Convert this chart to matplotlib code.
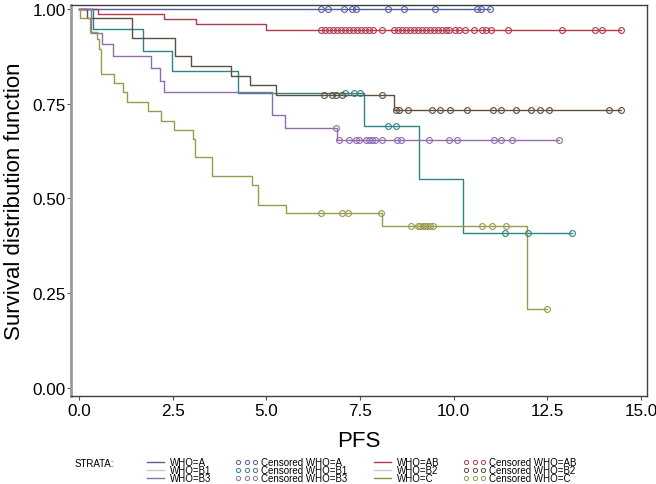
import numpy as np
import matplotlib
matplotlib.use("Agg")
import matplotlib.pyplot as plt
from matplotlib.lines import Line2D

plt.rcParams['font.family'] = ['Liberation Sans', 'DejaVu Sans']

# ---- data ----
strata = ["WHO=A", "WHO=AB", "WHO=B1", "WHO=B2", "WHO=B3", "WHO=C"]

a_times = [0.0]
a_surv = [1.0]
a_end = 10.96
a_cens = [6.45, 6.65, 7.07, 7.29, 7.39, 8.24, 8.67, 9.49, 10.62, 10.73, 10.96]

ab_times = [0.0, 0.51, 2.27, 3.13, 4.98]
ab_surv = [1.0, 0.988, 0.974, 0.960, 0.945]
ab_end = 14.45
ab_cens = [6.45, 6.56, 6.67, 6.77, 6.88, 6.99, 7.09, 7.20, 7.31, 7.41, 7.52, 7.63,
           7.73, 7.84, 8.09, 8.40, 8.51, 8.61, 8.72, 8.83, 8.93, 9.04, 9.15, 9.25,
           9.36, 9.47, 9.57, 9.68, 9.79, 9.87, 10.03, 10.13, 10.31, 10.53, 10.75,
           10.85, 10.98, 11.44, 12.89, 13.78, 13.95, 14.45]

b1_times = [0.0, 0.38, 1.71, 2.49, 4.25, 7.60, 9.07, 10.25]
b1_surv = [1.0, 0.947, 0.888, 0.835, 0.778, 0.690, 0.550, 0.409]
b1_end = 13.15
b1_cens = [7.11, 7.33, 7.51, 8.24, 8.46, 11.38, 11.97, 13.15]

b2_times = [0.0, 0.22, 1.42, 2.55, 2.99, 4.06, 4.56, 5.26, 8.40]
b2_surv = [1.0, 0.975, 0.923, 0.875, 0.849, 0.824, 0.799, 0.773, 0.734]
b2_end = 14.45
b2_cens = [6.53, 6.75, 6.85, 7.02, 8.09, 8.45, 8.53, 8.78, 9.42, 9.62, 9.91, 10.34,
           11.04, 11.27, 11.65, 12.07, 12.31, 12.53, 14.15, 14.45]

b3_times = [0.0, 0.33, 0.62, 0.91, 1.91, 2.16, 2.27, 5.14, 5.49, 6.89]
b3_surv = [1.0, 0.936, 0.908, 0.875, 0.844, 0.811, 0.780, 0.720, 0.686, 0.653]
b3_end = 12.82
b3_cens = [6.85, 6.93, 7.20, 7.38, 7.47, 7.65, 7.73, 7.82, 7.91, 8.09, 8.49, 8.58,
           9.33, 9.87, 10.09, 11.07, 11.25, 11.55, 12.82]

c_times = [0.0, 0.03, 0.29, 0.49, 0.53, 0.59, 0.93, 1.17, 1.29, 1.84, 2.18, 2.53,
           3.05, 3.09, 3.55, 4.61, 4.77, 5.51, 8.09, 11.95]
c_surv = [1.0, 0.975, 0.938, 0.922, 0.894, 0.828, 0.805, 0.780, 0.755, 0.730, 0.704,
          0.680, 0.657, 0.609, 0.558, 0.536, 0.483, 0.461, 0.427, 0.208]
c_end = 12.49
c_cens = [6.47, 7.01, 7.18, 8.07, 8.85, 9.04, 9.11, 9.17, 9.23, 9.29, 9.36, 9.45,
          10.75, 11.02, 11.39, 12.49]

x_ticks = [0.0, 2.5, 5.0, 7.5, 10.0, 12.5, 15.0]
y_ticks = [0.00, 0.25, 0.50, 0.75, 1.00]

# ---- style ----
colors = {"WHO=A": "#53609e", "WHO=AB": "#b23a4c", "WHO=B1": "#2d8583",
          "WHO=B2": "#5e4e3e", "WHO=B3": "#8e6cae", "WHO=C": "#9a9a4e"}
legend_line_colors = {"WHO=A": "#53609e", "WHO=AB": "#b23a4c", "WHO=B1": "#c9cbc9",
                      "WHO=B2": "#c9c9c7", "WHO=B3": "#8e6cae", "WHO=C": "#8f8f40"}

series = {
    "WHO=A": (a_times, a_surv, a_end, a_cens),
    "WHO=AB": (ab_times, ab_surv, ab_end, ab_cens),
    "WHO=B1": (b1_times, b1_surv, b1_end, b1_cens),
    "WHO=B2": (b2_times, b2_surv, b2_end, b2_cens),
    "WHO=B3": (b3_times, b3_surv, b3_end, b3_cens),
    "WHO=C": (c_times, c_surv, c_end, c_cens),
}

fig = plt.figure(figsize=(6.56, 4.85), dpi=100)
ax = fig.add_axes([0.1085, 0.182, 0.878, 0.806])

for name in strata:
    t, s, end, cens = series[name]
    xs = list(t) + [end]
    ys = list(s) + [s[-1]]
    ax.step(xs, ys, where='post', color=colors[name], lw=1.0, zorder=2)
    t_arr = np.array(t)
    s_arr = np.array(s)
    idx = np.searchsorted(t_arr, np.array(cens), side='right') - 1
    ax.plot(cens, s_arr[idx], linestyle='none', marker='o', markersize=4.2,
            markerfacecolor='none', markeredgecolor=colors[name], markeredgewidth=0.8,
            zorder=3)

ax.set_xlim(-0.21, 15.16)
ax.set_ylim(-0.021, 1.011)
ax.set_xticks(x_ticks)
ax.set_xticklabels([f"{v:.1f}" for v in x_ticks])
ax.set_yticks(y_ticks)
ax.set_yticklabels([f"{v:.2f}" for v in y_ticks])
ax.tick_params(axis='both', labelsize=12.3, length=3, width=0.8, color='#555555', pad=1)
ax.tick_params(axis='x', pad=2)
ax.set_xlabel("PFS", fontsize=16, labelpad=9)
ax.set_ylabel("Survival distribution function", fontsize=16, labelpad=5)

for side in ['top', 'right', 'bottom']:
    ax.spines[side].set_color('#404040')
    ax.spines[side].set_linewidth(1.0)
ax.spines['left'].set_color('#9a9a9a')
ax.spines['left'].set_linewidth(2.0)

# ---- legend ----
handles = []
labels = []
order = [["WHO=A", "WHO=B1", "WHO=B3"], ["WHO=AB", "WHO=B2", "WHO=C"]]
for grp in order:
    for name in grp:
        handles.append(Line2D([], [], color=legend_line_colors[name], lw=1.0))
        labels.append(name)
    for name in grp:
        handles.append(Line2D([], [], linestyle='none', marker='o', markersize=3.0,
                              markerfacecolor='none', markeredgecolor=colors[name],
                              markeredgewidth=0.7))
        labels.append("Censored " + name)

leg_font = {'family': ['Liberation Sans', 'DejaVu Sans'], 'size': 7.0}
fig.legend(handles, labels, ncol=4, loc='upper left', bbox_to_anchor=(0.2195, 0.055),
           frameon=False, prop=leg_font, numpoints=3, handlelength=2.4,
           handletextpad=0.3, columnspacing=2.4, labelspacing=-0.2, borderpad=0,
           borderaxespad=0)
fig.text(0.114, 0.043, "STRATA:", fontsize=7.0, va='center',
         family=['Liberation Sans', 'DejaVu Sans'])

fig.savefig("out.png", dpi=100)
